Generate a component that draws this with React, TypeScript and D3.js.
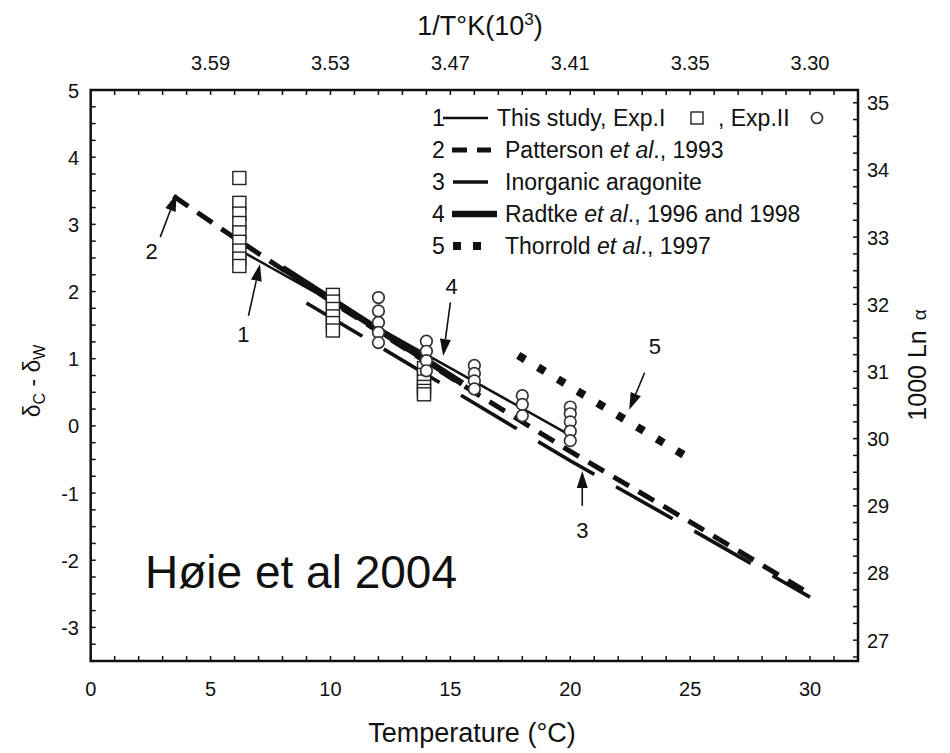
import React from "react";
import * as d3 from "d3";

const W = 950;
const H = 753;
const FONT = "'Liberation Sans', Arial, Helvetica, sans-serif";

// axis definitions
const X_DOMAIN: [number, number] = [0, 32];
const Y_DOMAIN: [number, number] = [-3.5, 5];
const RIGHT_OFFSET = 30.19; // 1000 ln a  =  (dC - dW) + offset
const bottomTicks = [0, 5, 10, 15, 20, 25, 30];
const leftTicks = [-3, -2, -1, 0, 1, 2, 3, 4, 5];
const rightTicks = [27, 28, 29, 30, 31, 32, 33, 34, 35];
const topTickTemps = [5, 10, 15, 20, 25, 30];
const topTickLabels = ["3.59", "3.53", "3.47", "3.41", "3.35", "3.30"];

// Exp. I (squares) : [temperature, dC - dW]
const exp1: [number, number][] = [
  [6.2, 3.69], [6.2, 3.32], [6.2, 3.16], [6.2, 3.02], [6.2, 2.88], [6.2, 2.74], [6.2, 2.61], [6.2, 2.49], [6.2, 2.38],
  [10.1, 1.95], [10.1, 1.85], [10.1, 1.74], [10.1, 1.63], [10.1, 1.53], [10.1, 1.42],
  [13.9, 0.86], [13.9, 0.76], [13.9, 0.66], [13.9, 0.58], [13.9, 0.52], [13.9, 0.47],
];
// Exp. II (circles)
const exp2: [number, number][] = [
  [12.0, 1.91], [12.0, 1.71], [12.0, 1.54], [12.0, 1.39], [12.0, 1.24],
  [14.0, 1.26], [14.0, 1.11], [14.0, 0.97], [14.0, 0.82],
  [16.0, 0.9], [16.0, 0.78], [16.0, 0.67], [16.0, 0.55],
  [18.0, 0.45], [18.0, 0.32], [18.0, 0.15],
  [20.0, 0.28], [20.0, 0.18], [20.0, 0.06], [20.0, -0.08], [20.0, -0.22],
];

// fitted / literature lines : [temperature, dC - dW]
const line1: [number, number][] = [[6.3, 2.6], [19.8, -0.1]];
const line2: [number, number][] = [[3.45, 3.42], [5.75, 2.86], [10, 1.86], [15, 0.72], [20, -0.38], [25, -1.43], [30, -2.5]];
const line3: [number, number][] = [[9, 1.83], [15, 0.55], [20, -0.52], [25, -1.53], [30, -2.55]];
const line4: [number, number][] = [[8, 2.35], [15.5, 0.63]];
const line5: [number, number][] = [[17.83, 1.05], [24.72, -0.43]];

// annotation arrows (data units)
const arrowLabels = ["2", "1", "4", "3", "5"];
const arrowTails: [number, number][] = [[2.9, 2.81], [6.58, 1.64], [15.0, 1.84], [20.5, -1.19], [23.1, 0.79]];
const arrowTips: [number, number][] = [[3.58, 3.45], [7.06, 2.41], [14.7, 1.04], [20.5, -0.67], [22.46, 0.24]];
const arrowTextPos: [number, number][] = [[2.54, 2.6], [6.37, 1.37], [15.05, 2.08], [20.5, -1.55], [23.53, 1.19]];

const x = d3.scaleLinear().domain(X_DOMAIN).range([90.7, 858]);
const y = d3.scaleLinear().domain(Y_DOMAIN).range([661, 90]);
const yR = d3.scaleLinear().domain([Y_DOMAIN[0] + RIGHT_OFFSET, Y_DOMAIN[1] + RIGHT_OFFSET]).range([661, 90]);

const lineGen = d3.line<[number, number]>().x((d) => x(d[0])).y((d) => y(d[1]));

function Arrow({ tail, tip }: { tail: [number, number]; tip: [number, number] }) {
  const x1 = x(tail[0]), y1 = y(tail[1]), x2 = x(tip[0]), y2 = y(tip[1]);
  const ang = Math.atan2(y2 - y1, x2 - x1);
  const L = 17, hw = 5.5;
  const bx = x2 - L * Math.cos(ang), by = y2 - L * Math.sin(ang);
  const px = -Math.sin(ang) * hw, py = Math.cos(ang) * hw;
  return (
    <g>
      <line x1={x1} y1={y1} x2={bx} y2={by} stroke="#111" strokeWidth={1.6} />
      <polygon points={`${x2},${y2} ${bx + px},${by + py} ${bx - px},${by - py}`} fill="#111" />
    </g>
  );
}

export default function App() {
  const minorX = d3.range(0, 32.01, 1);
  const minorY = d3.range(-3.5, 5.01, 0.25);
  const minorYR = d3.range(26.75, 35.2, 0.25);
  const x0 = x(0), x1 = x(32), yTop = y(5), yBot = y(-3.5);

  const p5 = line5.map((d) => [x(d[0]), y(d[1])]);
  const len5 = Math.hypot(p5[1][0] - p5[0][0], p5[1][1] - p5[0][1]);
  const gap5 = (len5 - 9 * 8) / 8;

  const legendRows = [118, 150, 182, 214, 246];
  const fs = 23;

  return (
    <svg width={W} height={H} style={{ position: "absolute", left: 0, top: 0, background: "#fff" }} fontFamily={FONT}>
      <rect x={0} y={0} width={W} height={H} fill="#fff" />
      {/* top title */}
      <text x={480} y={35} fontSize={27} textAnchor="middle" fill="#111">
        1/T°K(10<tspan dy={-10} fontSize={17}>3</tspan><tspan dy={10}>)</tspan>
      </text>
      {/* top tick labels */}
      {topTickTemps.map((t, i) => (
        <text key={"tl" + i} x={x(t)} y={70} fontSize={20} textAnchor="middle" fill="#111">{topTickLabels[i]}</text>
      ))}
      {/* bottom tick labels */}
      {bottomTicks.map((t) => (
        <text key={"bl" + t} x={x(t)} y={696} fontSize={20} textAnchor="middle" fill="#111">{t}</text>
      ))}
      {/* left tick labels */}
      {leftTicks.map((v) => (
        <text key={"ll" + v} x={79} y={y(v) + 7.5} fontSize={20} textAnchor="end" fill="#111">{v}</text>
      ))}
      {/* right tick labels */}
      {rightTicks.map((v) => (
        <text key={"rl" + v} x={867} y={yR(v) + 7.5} fontSize={20} textAnchor="start" fill="#111">{v}</text>
      ))}
      {/* axis titles */}
      <text x={472} y={742} fontSize={27} textAnchor="middle" fill="#111">Temperature (°C)</text>
      <text transform="translate(40,381) rotate(-90)" fontSize={23} textAnchor="middle" fill="#111">
        δ<tspan fontSize={16} dy={5}>C</tspan><tspan dy={-5}> - δ</tspan><tspan fontSize={16} dy={5}>W</tspan>
      </text>
      <text transform="translate(926,365) rotate(-90)" fontSize={25} textAnchor="middle" fill="#111">
        1000 Ln <tspan fontSize={19} dx={3}>α</tspan>
      </text>

      {/* ticks */}
      {minorX.map((t) => (
        <g key={"tx" + t}>
          <line x1={x(t)} x2={x(t)} y1={yBot} y2={yBot - 5} stroke="#111" strokeWidth={1.5} />
          <line x1={x(t)} x2={x(t)} y1={yTop} y2={yTop + 5} stroke="#111" strokeWidth={1.5} />
        </g>
      ))}
      {minorY.map((v) => (
        <line key={"ty" + v} x1={x0} x2={x0 + 5} y1={y(v)} y2={y(v)} stroke="#111" strokeWidth={1.5} />
      ))}
      {minorYR.map((v) => (
        <line key={"tr" + v} x1={x1} x2={x1 - 5} y1={yR(v)} y2={yR(v)} stroke="#111" strokeWidth={1.5} />
      ))}

      {/* lines */}
      <path d={lineGen(line3) || ""} fill="none" stroke="#111" strokeWidth={3.6} strokeDasharray="65 25" />
      <path d={lineGen(line2) || ""} fill="none" stroke="#111" strokeWidth={5} strokeDasharray="18 11" />
      <path d={lineGen(line4) || ""} fill="none" stroke="#111" strokeWidth={6.5} />
      <path d={lineGen(line1) || ""} fill="none" stroke="#111" strokeWidth={2.5} />
      <path d={lineGen(line5) || ""} fill="none" stroke="#111" strokeWidth={8} strokeDasharray={`8 ${gap5}`} />

      {/* data points */}
      {exp1.map((d, i) => (
        <rect key={"s" + i} x={x(d[0]) - 6.5} y={y(d[1]) - 6.5} width={13} height={13} fill="#fff" stroke="#222" strokeWidth={1.4} />
      ))}
      {exp2.map((d, i) => (
        <circle key={"c" + i} cx={x(d[0])} cy={y(d[1])} r={5.8} fill="#fff" stroke="#333" strokeWidth={1.7} />
      ))}

      {/* annotation arrows */}
      {arrowLabels.map((lab, i) => (
        <g key={"a" + i}>
          <Arrow tail={arrowTails[i]} tip={arrowTips[i]} />
          <text x={x(arrowTextPos[i][0])} y={y(arrowTextPos[i][1]) + 8} fontSize={22} textAnchor="middle" fill="#111">{lab}</text>
        </g>
      ))}

      {/* legend */}
      <g fontSize={fs} fill="#111">
        {legendRows.map((ry, i) => (
          <text key={"ln" + i} x={432} y={ry + 8}>{i + 1}</text>
        ))}
        <line x1={443} x2={488} y1={legendRows[0]} y2={legendRows[0]} stroke="#111" strokeWidth={2.5} />
        <text x={497} y={legendRows[0] + 8}>This study, Exp.I</text>
        <rect x={691} y={legendRows[0] - 6} width={12} height={12} fill="#fff" stroke="#222" strokeWidth={1.4} />
        <text x={718} y={legendRows[0] + 8}>, Exp.II</text>
        <circle cx={817} cy={legendRows[0]} r={5.5} fill="#fff" stroke="#333" strokeWidth={1.7} />

        <line x1={452} x2={491} y1={legendRows[1]} y2={legendRows[1]} stroke="#111" strokeWidth={5} strokeDasharray="15 10" />
        <text x={505} y={legendRows[1] + 8}>Patterson <tspan fontStyle="italic">et al</tspan>., 1993</text>

        <line x1={453} x2={488} y1={legendRows[2]} y2={legendRows[2]} stroke="#111" strokeWidth={3.4} />
        <text x={505} y={legendRows[2] + 8}>Inorganic aragonite</text>

        <line x1={452} x2={497} y1={legendRows[3]} y2={legendRows[3]} stroke="#111" strokeWidth={6.5} />
        <text x={505} y={legendRows[3] + 8}>Radtke <tspan fontStyle="italic">et al</tspan>., 1996 and 1998</text>

        <line x1={453} x2={481} y1={legendRows[4]} y2={legendRows[4]} stroke="#111" strokeWidth={8} strokeDasharray="8 12" />
        <text x={505} y={legendRows[4] + 8}>Thorrold <tspan fontStyle="italic">et al</tspan>., 1997</text>
      </g>

      {/* frame */}
      <rect x={x0} y={yTop} width={x1 - x0} height={yBot - yTop} fill="none" stroke="#111" strokeWidth={2.5} />

      {/* citation */}
      <text x={145} y={588} fontSize={46} fill="#111">Høie et al 2004</text>
    </svg>
  );
}
